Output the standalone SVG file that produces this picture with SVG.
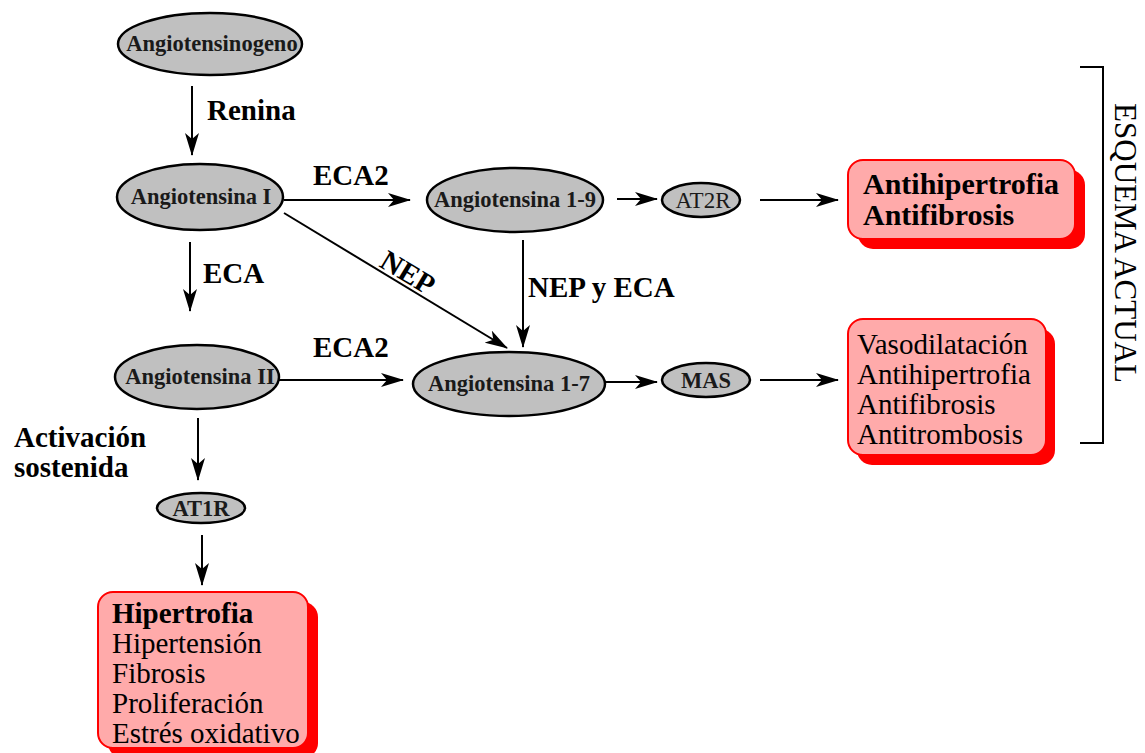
<svg xmlns="http://www.w3.org/2000/svg" width="1145" height="753" viewBox="0 0 1145 753">
<style>
.node ellipse{fill:#c0c0c0;stroke:#000;stroke-width:2.5}
.nt{font-family:"Liberation Serif",serif;font-weight:bold;font-size:22.5px;text-anchor:middle;fill:#1a1a1a}
.lbl{font-family:"Liberation Serif",serif;font-weight:bold;font-size:29px;fill:#000}
.bt{font-family:"Liberation Serif",serif;font-size:29px;fill:#000}
.b{font-weight:bold}
.box{fill:#ffaaaa;stroke:#ff0000;stroke-width:2}
.shadow{fill:#ff0000}
.conn line{stroke:#000;stroke-width:2;marker-end:url(#ah)}
</style>
<defs>
<marker id="ah" markerUnits="userSpaceOnUse" markerWidth="24" markerHeight="14" refX="22" refY="7" orient="auto">
<path d="M0,0 L23,7 L0,14 L6,7 z" fill="#000"/>
</marker>
</defs>
<rect width="1145" height="753" fill="#fff"/>

<g id="connectors" class="conn">
<line x1="192" y1="86" x2="192" y2="155"/>
<line x1="284" y1="200" x2="410" y2="200"/>
<line x1="617" y1="199" x2="657" y2="199"/>
<line x1="760" y1="200" x2="838" y2="200"/>
<line x1="190" y1="242" x2="190" y2="311"/>
<line x1="284" y1="213" x2="507" y2="348"/>
<line x1="523" y1="240" x2="523" y2="347"/>
<line x1="279" y1="380" x2="403" y2="380"/>
<line x1="605" y1="382" x2="657" y2="382"/>
<line x1="760" y1="380" x2="838" y2="380"/>
<line x1="198" y1="418" x2="198" y2="480"/>
<line x1="202" y1="535" x2="202" y2="585"/>
</g>

<g id="labels">
<text class="lbl" x="207" y="120">Renina</text>
<text class="lbl" x="313" y="185">ECA2</text>
<text class="lbl" x="203" y="283">ECA</text>
<text class="lbl" x="528" y="297">NEP y ECA</text>
<text class="lbl" transform="translate(378,266) rotate(31)">NEP</text>
<text class="lbl" x="313" y="357">ECA2</text>
<text class="lbl" x="14" y="447">Activación</text>
<text class="lbl" x="14" y="477">sostenida</text>
</g>

<g id="angiotensinogeno" class="node"><ellipse cx="210" cy="44" rx="92" ry="31"/><text class="nt" x="212" y="51">Angiotensinogeno</text></g>
<g id="angiotensina-i" class="node"><ellipse cx="200" cy="197" rx="83" ry="33"/><text class="nt" x="201" y="204">Angiotensina I</text></g>
<g id="angiotensina-1-9" class="node"><ellipse cx="515" cy="200" rx="88" ry="32"/><text class="nt" x="515" y="207">Angiotensina 1-9</text></g>
<g id="at2r" class="node"><ellipse cx="701" cy="200" rx="39" ry="17"/><text class="nt" x="703" y="208" style="font-weight:normal;font-size:23px">AT2R</text></g>
<g id="angiotensina-ii" class="node"><ellipse cx="197" cy="377" rx="82" ry="32"/><text class="nt" x="200" y="384">Angiotensina II</text></g>
<g id="angiotensina-1-7" class="node"><ellipse cx="509" cy="384" rx="96" ry="32"/><text class="nt" x="509" y="391">Angiotensina 1-7</text></g>
<g id="mas" class="node"><ellipse cx="706" cy="380" rx="44" ry="17"/><text class="nt" x="706" y="388">MAS</text></g>
<g id="at1r" class="node"><ellipse cx="201" cy="508" rx="44" ry="15"/><text class="nt" x="201" y="516">AT1R</text></g>

<g id="box-antihipertrofia">
<rect class="shadow" x="858" y="170" width="227" height="79" rx="15"/>
<rect class="box" x="848" y="160" width="227" height="79" rx="15"/>
<text class="bt b" x="863" y="194" style="font-size:30px">Antihipertrofia</text>
<text class="bt b" x="863" y="225" style="font-size:30px">Antifibrosis</text>
</g>

<g id="box-vasodilatacion">
<rect class="shadow" x="857" y="329" width="198" height="136" rx="15"/>
<rect class="box" x="848" y="319" width="198" height="136" rx="15"/>
<text class="bt" x="857" y="354">Vasodilatación</text>
<text class="bt" x="857" y="384">Antihipertrofia</text>
<text class="bt" x="857" y="414">Antifibrosis</text>
<text class="bt" x="857" y="444">Antitrombosis</text>
</g>

<g id="box-hipertrofia">
<rect class="shadow" x="108" y="602" width="210" height="156" rx="15"/>
<rect class="box" x="98" y="592" width="210" height="156" rx="15"/>
<text class="bt b" x="112" y="623">Hipertrofia</text>
<text class="bt" x="112" y="653">Hipertensión</text>
<text class="bt" x="112" y="683">Fibrosis</text>
<text class="bt" x="112" y="713">Proliferación</text>
<text class="bt" x="112" y="743">Estrés oxidativo</text>
</g>

<g id="esquema-actual">
<path d="M1080,67 H1103 V443 H1080" fill="none" stroke="#000" stroke-width="2"/>
<text transform="translate(1115,243) rotate(90)" style="font-family:'Liberation Serif',serif;font-size:31px;text-anchor:middle">ESQUEMA ACTUAL</text>
</g>
</svg>
